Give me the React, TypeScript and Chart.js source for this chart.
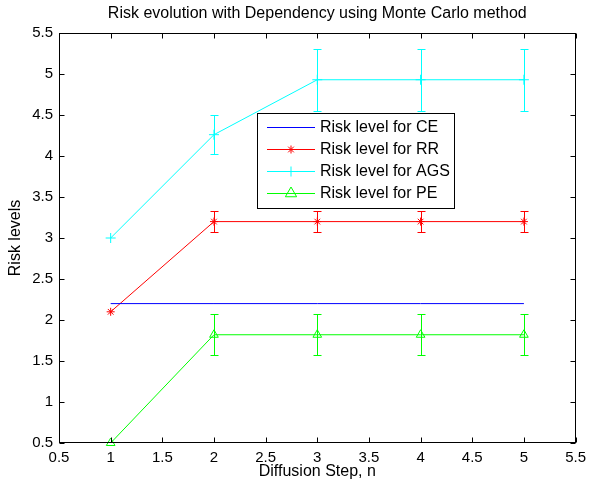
import React, { useEffect, useRef } from "react";
import { Chart, registerables } from "chart.js";
import { drawPoint } from "chart.js/helpers";

Chart.register(...registerables);

const steps = [1, 2, 3, 4, 5];
const ceValues = [2.2, 2.2, 2.2, 2.2, 2.2];
const rrValues = [2.1, 3.2, 3.2, 3.2, 3.2];
const rrErrors = [0, 0.13, 0.13, 0.13, 0.13];
const agsValues = [3.0, 4.26, 4.93, 4.93, 4.93];
const agsErrors = [0, 0.24, 0.38, 0.38, 0.38];
const peValues = [0.5, 1.82, 1.82, 1.82, 1.82];
const peErrors = [0, 0.25, 0.25, 0.25, 0.25];
const seriesLabels = ["Risk level for CE", "Risk level for RR", "Risk level for AGS", "Risk level for PE"];
const seriesColors = ["#0000ff", "#ff0000", "#00ffff", "#00ff00"];
const seriesStyles = ["circle", "star", "cross", "triangle"];
const seriesRadius = [0, 4, 5, 5];
const titleText = "Risk evolution with Dependency using Monte Carlo method";
const xTitle = "Diffusion Step, n";
const yTitle = "Risk levels";

const FONT = "'Liberation Sans', Arial, Helvetica, sans-serif";

const toPoints = (vals: number[]) => vals.map((v, i) => ({ x: steps[i], y: v }));

const errorBarPlugin = {
  id: "errorBars",
  afterDatasetsDraw(chart: any) {
    const { ctx } = chart;
    const xs = chart.scales.x;
    const ys = chart.scales.y;
    chart.data.datasets.forEach((ds: any, di: number) => {
      const errs: number[] | undefined = ds.errors;
      if (!errs) return;
      ctx.save();
      ctx.strokeStyle = seriesColors[di];
      ctx.lineWidth = 1;
      ds.data.forEach((p: any, i: number) => {
        const e = errs[i];
        if (!e) return;
        const px = Math.round(xs.getPixelForValue(p.x)) + 0.5;
        const y1 = Math.round(ys.getPixelForValue(p.y + e)) + 0.5;
        const y2 = Math.round(ys.getPixelForValue(p.y - e)) + 0.5;
        ctx.beginPath();
        ctx.moveTo(px, y1);
        ctx.lineTo(px, y2);
        ctx.moveTo(px - 4, y1);
        ctx.lineTo(px + 4, y1);
        ctx.moveTo(px - 4, y2);
        ctx.lineTo(px + 4, y2);
        ctx.stroke();
      });
      ctx.restore();
    });
  },
};

const framePlugin = {
  id: "frameAndLegend",
  afterDraw(chart: any) {
    const { ctx, chartArea } = chart;
    const xs = chart.scales.x;
    const ys = chart.scales.y;
    const L = Math.round(chartArea.left) + 0.5;
    const R = Math.round(chartArea.right) - 0.5;
    const T = Math.round(chartArea.top) + 0.5;
    const B = Math.round(chartArea.bottom) - 0.5;
    ctx.save();
    ctx.strokeStyle = "#000";
    ctx.lineWidth = 1;
    ctx.strokeRect(L, T, R - L, B - T);
    const tl = 5;
    ctx.beginPath();
    xs.ticks.forEach((t: any) => {
      const px = Math.round(xs.getPixelForValue(t.value)) + 0.5;
      ctx.moveTo(px, B);
      ctx.lineTo(px, B - tl);
      ctx.moveTo(px, T);
      ctx.lineTo(px, T + tl);
    });
    ys.ticks.forEach((t: any) => {
      const py = Math.round(ys.getPixelForValue(t.value)) + 0.5;
      ctx.moveTo(L, py);
      ctx.lineTo(L + tl, py);
      ctx.moveTo(R, py);
      ctx.lineTo(R - tl, py);
    });
    ctx.stroke();

    // legend box
    const bx = 257.5, by = 113.5, bw = 197, bh = 95;
    ctx.fillStyle = "#fff";
    ctx.fillRect(bx, by, bw, bh);
    ctx.strokeStyle = "#000";
    ctx.lineWidth = 1;
    ctx.strokeRect(bx, by, bw, bh);
    const rows = [127, 149, 171, 193];
    seriesLabels.forEach((label, i) => {
      const ry = rows[i] + 0.5;
      ctx.save();
      ctx.strokeStyle = seriesColors[i];
      ctx.fillStyle = "rgba(0,0,0,0)";
      ctx.lineWidth = 1;
      ctx.beginPath();
      ctx.moveTo(267, ry);
      ctx.lineTo(315, ry);
      ctx.stroke();
      if (seriesRadius[i] > 0) {
        const r = seriesRadius[i] + (seriesStyles[i] === "triangle" ? 1.5 : 0);
        drawPoint(ctx, { pointStyle: seriesStyles[i] as any, radius: r, rotation: 0, borderWidth: 1 } as any, 291, ry);
      }
      ctx.restore();
      ctx.save();
      ctx.font = `16px ${FONT}`;
      ctx.textBaseline = "middle";
      ctx.textAlign = "left";
      ctx.fillStyle = "#000";
      ctx.fillText(label, 320, rows[i] + 1);
      ctx.restore();
    });
    ctx.restore();
  },
};

const fmt = (v: any) => `${Number(v)}`;

export default function App() {
  const canvasRef = useRef<HTMLCanvasElement | null>(null);

  useEffect(() => {
    const canvas = canvasRef.current;
    if (!canvas) return;
    const mk = (i: number, vals: number[], errors?: number[]) => ({
      label: seriesLabels[i],
      data: toPoints(vals),
      borderColor: seriesColors[i],
      backgroundColor: seriesColors[i],
      borderWidth: 1,
      pointStyle: seriesStyles[i],
      pointRadius: seriesRadius[i],
      pointBorderColor: seriesColors[i],
      pointBackgroundColor: "rgba(0,0,0,0)",
      pointBorderWidth: 1,
      showLine: true,
      tension: 0,
      clip: false as any,
      errors,
    });
    const chart = new Chart(canvas, {
      type: "scatter",
      data: {
        datasets: [
          mk(0, ceValues),
          mk(1, rrValues, rrErrors),
          mk(2, agsValues, agsErrors),
          mk(3, peValues, peErrors),
        ] as any,
      },
      options: {
        animation: false,
        responsive: false,
        devicePixelRatio: 1,
        layout: { padding: { top: 0, right: 13, left: 0, bottom: 0 } },
        plugins: {
          legend: { display: false },
          tooltip: { enabled: false },
          title: {
            display: true,
            text: titleText,
            fullSize: false,
            color: "#000",
            font: { family: FONT, size: 16, weight: "normal" as any, lineHeight: 1.2 },
            padding: { top: 4.4, bottom: 9.4 },
          },
        },
        scales: {
          x: {
            type: "linear",
            min: 0.5,
            max: 5.5,
            afterFit: (s: any) => { s.height = 42; },
            ticks: { stepSize: 0.5, color: "#000", font: { family: FONT, size: 15 }, padding: 6, maxRotation: 0, autoSkip: false, callback: fmt },
            grid: { display: false, drawTicks: false },
            border: { display: false },
            title: { display: true, text: xTitle, color: "#000", font: { family: FONT, size: 16 }, padding: { top: 0, bottom: 4 } },
          },
          y: {
            type: "linear",
            min: 0.5,
            max: 5.5,
            afterFit: (s: any) => { s.width = 59; },
            ticks: { stepSize: 0.5, color: "#000", font: { family: FONT, size: 15 }, padding: 6, autoSkip: false, callback: fmt },
            grid: { display: false, drawTicks: false },
            border: { display: false },
            title: { display: true, text: yTitle, color: "#000", font: { family: FONT, size: 16 }, padding: { top: 6, bottom: 0 } },
          },
        },
      },
      plugins: [errorBarPlugin, framePlugin],
    });
    return () => chart.destroy();
  }, []);

  return (
    <div style={{ position: "fixed", left: 0, top: 0, width: 592, height: 485, background: "#fff" }}>
      <canvas ref={canvasRef} width={592} height={485} style={{ width: 592, height: 485 }} />
    </div>
  );
}
